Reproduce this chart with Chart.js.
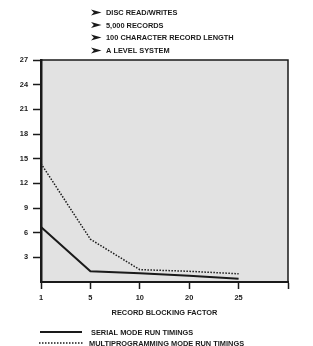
<!DOCTYPE html>
<html>
<head>
<meta charset="utf-8">
<script src="https://cdn.jsdelivr.net/npm/chart.js@4/dist/chart.umd.min.js"></script>
<style>
  html, body { margin: 0; padding: 0; background: #fff; }
  #wrap { width: 313px; height: 346px; position: relative; }
</style>
</head>
<body>
<div id="wrap"><canvas id="c" width="313" height="346"></canvas></div>
<script>
// ---- data ----
const categories = ['1', '5', '10', '20', '25', ''];
const serialValues = [6.7, 1.3, 1.05, 0.75, 0.4];
const multiValues = [14.4, 5.2, 1.5, 1.3, 1.0];
const yTicks = [3, 6, 9, 12, 15, 18, 21, 24, 27];
const headerLines = ['DISC READ/WRITES', '5,000 RECORDS', '100 CHARACTER RECORD LENGTH', 'A LEVEL SYSTEM'];
const xTitle = 'RECORD BLOCKING FACTOR';
const seriesNames = ['SERIAL MODE RUN TIMINGS', 'MULTIPROGRAMMING MODE RUN TIMINGS'];

const FONT = '"Liberation Sans", Arial, sans-serif';
const FS = 7.4;
const INK = '#1a1a1a';

const decor = {
  id: 'decor',
  beforeDraw(chart) {
    const {ctx, chartArea: a} = chart;
    ctx.save();
    ctx.fillStyle = '#ffffff';
    ctx.fillRect(0, 0, chart.width, chart.height);
    ctx.fillStyle = '#e2e2e2';
    ctx.fillRect(a.left, a.top, a.right - a.left, a.bottom - a.top);
    ctx.restore();
  },
  afterDraw(chart) {
    const {ctx, chartArea: a} = chart;
    ctx.save();
    // frame top and right
    ctx.strokeStyle = INK;
    ctx.lineWidth = 1.5;
    ctx.beginPath();
    ctx.moveTo(a.left, a.top);
    ctx.lineTo(a.right, a.top);
    ctx.lineTo(a.right, a.bottom);
    ctx.stroke();

    // header bullets
    ctx.font = 'bold ' + FS + 'px ' + FONT;
    ctx.textBaseline = 'middle';
    ctx.textAlign = 'left';
    ctx.fillStyle = INK;
    const hy = [12.5, 25, 37.5, 50.5];
    headerLines.forEach((t, i) => {
      const y = hy[i];
      ctx.beginPath();
      ctx.moveTo(101.5, y);
      ctx.lineTo(91, y - 3);
      ctx.lineTo(93.8, y);
      ctx.lineTo(91, y + 3);
      ctx.closePath();
      ctx.fill();
      ctx.fillText(t, 106, y + 0.5);
    });

    // legend
    const ds = chart.data.datasets;
    const ly = [332, 343];
    const lx = [[40, 82, 91], [39, 83, 89]];
    ds.forEach((d, i) => {
      ctx.strokeStyle = d.borderColor;
      ctx.lineWidth = d.borderWidth;
      ctx.setLineDash(d.borderDash || []);
      ctx.beginPath();
      ctx.moveTo(lx[i][0], ly[i]);
      ctx.lineTo(lx[i][1], ly[i]);
      ctx.stroke();
      ctx.setLineDash([]);
      ctx.fillText(seriesNames[i], lx[i][2], ly[i] + 0.5);
    });
    ctx.restore();
  }
};

new Chart(document.getElementById('c'), {
  type: 'line',
  data: {
    labels: categories,
    datasets: [
      {
        label: seriesNames[0],
        data: serialValues,
        borderColor: INK,
        borderWidth: 2,
        pointRadius: 0,
        tension: 0,
        fill: false
      },
      {
        label: seriesNames[1],
        data: multiValues,
        borderColor: INK,
        borderWidth: 1.5,
        borderDash: [1.5, 1.5],
        pointRadius: 0,
        tension: 0,
        fill: false
      }
    ]
  },
  options: {
    responsive: false,
    animation: false,
    devicePixelRatio: 1,
    layout: { padding: { top: 60, right: 25, bottom: 0, left: 0 } },
    plugins: {
      legend: { display: false },
      tooltip: { enabled: false },
      title: { display: false }
    },
    scales: {
      x: {
        type: 'category',
        offset: false,
        afterFit(s) { s.height = 64; },
        grid: {
          drawOnChartArea: false,
          drawTicks: true,
          tickLength: 7,
          tickColor: INK,
          tickWidth: 1.5
        },
        border: { color: INK, width: 2 },
        ticks: {
          color: INK,
          font: { family: FONT, size: FS, weight: 'bold' },
          padding: 5,
          maxRotation: 0,
          autoSkip: false
        },
        title: {
          display: true,
          text: xTitle,
          color: INK,
          font: { family: FONT, size: FS, weight: 'bold' },
          padding: { top: 4, bottom: 28.5 }
        }
      },
      y: {
        min: 0,
        max: 27,
        afterFit(s) { s.width = 41; },
        afterBuildTicks(s) { s.ticks = yTicks.map(v => ({ value: v })); },
        grid: {
          drawOnChartArea: false,
          drawTicks: true,
          tickLength: 8,
          tickColor: INK,
          tickWidth: 1.5
        },
        border: { color: INK, width: 2.5 },
        ticks: {
          color: INK,
          font: { family: FONT, size: FS, weight: 'bold' },
          padding: 5
        }
      }
    }
  },
  plugins: [decor]
});
</script>
</body>
</html>
